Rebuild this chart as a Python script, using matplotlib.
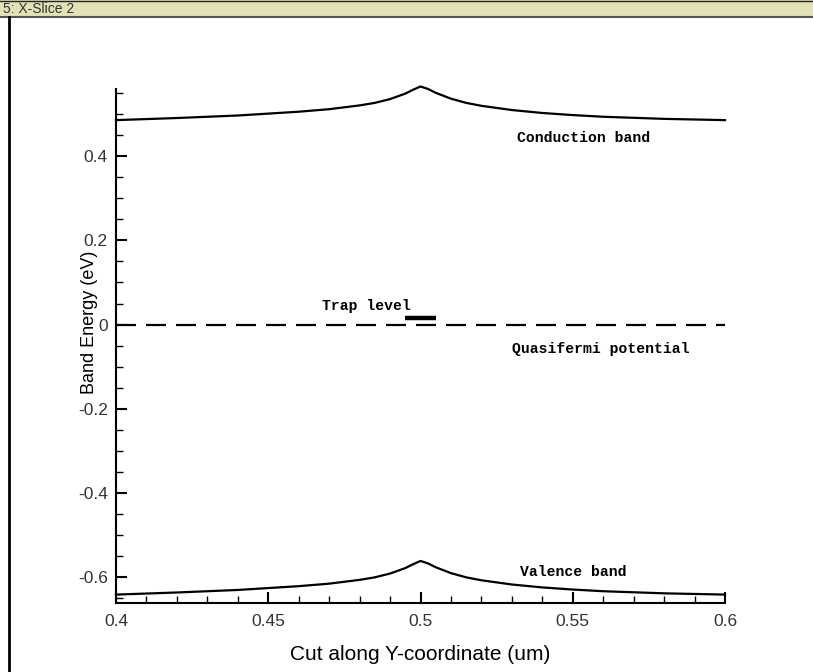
import matplotlib
matplotlib.use("Agg")
import matplotlib.pyplot as plt
from matplotlib.patches import Rectangle
from matplotlib.lines import Line2D
from matplotlib.ticker import MultipleLocator

# =====================================================
# DATA
# =====================================================

y_coord = [0.40, 0.42, 0.44, 0.46, 0.47, 0.48, 0.485, 0.49, 0.495, 0.4975,
           0.50, 0.5025, 0.505, 0.51, 0.515, 0.52, 0.53, 0.54, 0.55, 0.56,
           0.58, 0.60]

conduction = [0.486, 0.491, 0.497, 0.506, 0.512, 0.521, 0.527, 0.536, 0.549, 0.558,
              0.566, 0.560, 0.551, 0.537, 0.527, 0.520, 0.510, 0.503, 0.498, 0.494,
              0.489, 0.486]

valence = [-0.642, -0.637, -0.631, -0.622, -0.616, -0.607, -0.601, -0.592, -0.579, -0.570,
           -0.562, -0.568, -0.577, -0.591, -0.601, -0.608, -0.618, -0.625, -0.630, -0.634,
           -0.639, -0.642]

quasi_x = [0.40, 0.60]
quasi_e = [0.0, 0.0]

trap_x = [0.495, 0.505]
trap_e = [0.016, 0.016]

x_ticks = [0.4, 0.45, 0.5, 0.55, 0.6]
x_labels = ["0.4", "0.45", "0.5", "0.55", "0.6"]
y_ticks = [-0.6, -0.4, -0.2, 0, 0.2, 0.4]
y_labels = ["-0.6", "-0.4", "-0.2", "0", "0.2", "0.4"]

# =====================================================
# FIGURE
# =====================================================

W, H = 813, 672
fig = plt.figure(figsize=(W / 100, H / 100), dpi=100)
fig.patch.set_facecolor("white")

# window title bar
fig.patches.append(Rectangle((0, 1 - 17 / H), 1, 17 / H, transform=fig.transFigure,
                             facecolor="#e2e2b6", edgecolor="none", zorder=0))
fig.lines.append(Line2D([0, 1], [1 - 17 / H, 1 - 17 / H], transform=fig.transFigure,
                        color="#555555", lw=1.5))
fig.lines.append(Line2D([0, 1], [1 - 0.5 / H, 1 - 0.5 / H], transform=fig.transFigure,
                        color="#222222", lw=1))
fig.lines.append(Line2D([8.5 / W, 8.5 / W], [0, 1 - 17 / H], transform=fig.transFigure,
                        color="black", lw=2))
fig.text(3 / W, 1 - 9 / H, "5: X-Slice 2", fontsize=10, family="Liberation Sans",
         color="#333333", va="center", ha="left")

ax = fig.add_axes([116 / W, 1 - 603 / H, (725 - 116) / W, (603 - 89) / H])

ax.plot(y_coord, conduction, color="black", lw=1.6, clip_on=False)
ax.plot(y_coord, valence, color="black", lw=1.6, clip_on=False)
ax.plot(quasi_x, quasi_e, color="black", lw=1.6, dashes=(9, 4.5))
ax.plot(trap_x, trap_e, color="black", lw=3.2, solid_capstyle="butt")

mono = dict(family=["Liberation Mono", "DejaVu Sans Mono"], fontweight="bold", fontsize=10.6)
ax.text(0.4677, 0.043, "Trap level", ha="left", va="center", **mono)
ax.text(0.5300, -0.058, "Quasifermi potential", ha="left", va="center", **mono)
ax.text(0.5316, 0.443, "Conduction band", ha="left", va="center", **mono)
ax.text(0.5327, -0.589, "Valence band", ha="left", va="center", **mono)

ax.set_xlim(0.4, 0.6)
ax.set_ylim(-0.662, 0.56)

ax.spines["top"].set_visible(False)
ax.spines["right"].set_visible(False)
ax.spines["left"].set_linewidth(1.5)
ax.spines["bottom"].set_linewidth(1.5)

tick_font = ["Liberation Sans", "DejaVu Sans"]
ax.set_xticks(x_ticks)
ax.set_xticklabels(x_labels, family=tick_font, fontsize=12.5)
ax.set_yticks(y_ticks)
ax.set_yticklabels(y_labels, family=tick_font, fontsize=12.5)
ax.xaxis.set_minor_locator(MultipleLocator(0.01))
ax.yaxis.set_minor_locator(MultipleLocator(0.05))
ax.tick_params(which="major", direction="in", length=8, width=1.5, colors="black",
               labelcolor="#333333")
ax.tick_params(axis="x", which="major", pad=8)
ax.tick_params(axis="y", which="major", pad=6)
ax.tick_params(which="minor", direction="in", length=5, width=1.0)

ax.set_xlabel("Cut along Y-coordinate (um)", family="Liberation Sans", fontsize=15)
ax.set_ylabel("Band Energy (eV)", family="Liberation Sans", fontsize=13)
ax.xaxis.set_label_coords((420 - 116) / 609, -(655 - 603) / 514)
ax.yaxis.set_label_coords((89 - 116) / 609, (603 - 322) / 514)
ax.xaxis.label.set_va("center")
ax.yaxis.label.set_va("center")

fig.savefig("out.png", dpi=100)
